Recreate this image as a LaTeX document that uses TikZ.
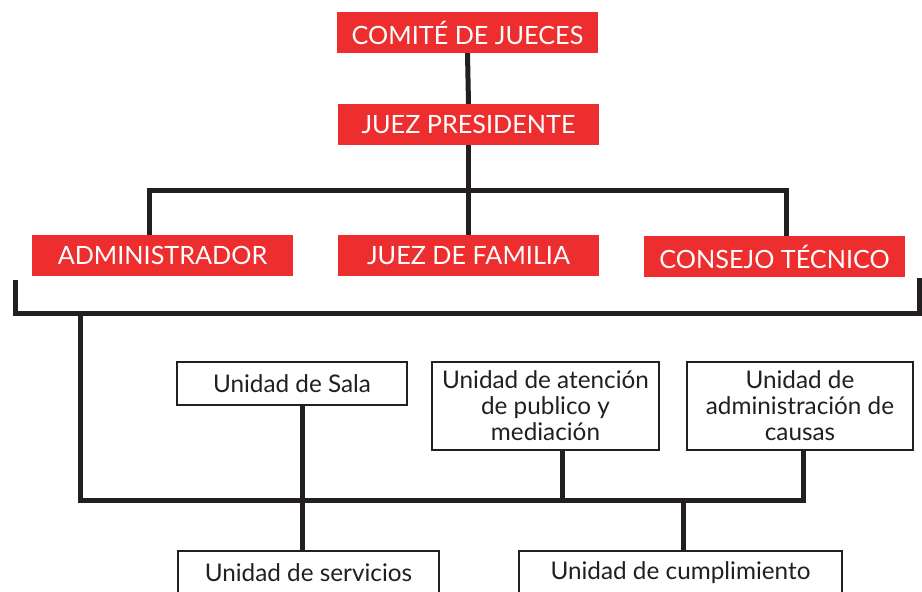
\documentclass[tikz,border=0pt]{standalone}
\usepackage{fontspec}
\setmainfont{Lato}
\definecolor{orgred}{HTML}{EE2D2F}
\definecolor{orgline}{HTML}{231F20}
\begin{document}
\begin{tikzpicture}[x=1pt,y=-1pt,
  redbox/.style={fill=orgred, text=white, minimum width=261pt, minimum height=41pt, inner sep=0pt, font=\fontsize{25.2}{29}\selectfont},
  unitbox/.style={draw=orgline, line width=2pt, fill=white, text=orgline, inner sep=0pt, align=center, font=\fontsize{24.3}{26}\selectfont},
  link/.style={draw=orgline, line width=5pt, line join=miter}]
\useasboundingbox (0,0) rectangle (922,592);
% red boxes
\node[redbox] (comite) at (467.5,32.5) {COMITÉ DE JUECES};
\node[redbox] (juezp) at (468.5,124.5) {JUEZ PRESIDENTE};
\node[redbox] (admin) at (162.5,255.5) {ADMINISTRADOR};
\node[redbox] (familia) at (468.5,255.5) {JUEZ DE FAMILIA};
\node[redbox] (consejo) at (774.5,256.5) {CONSEJO TÉCNICO};
% unit boxes
\node[unitbox, minimum width=230pt, minimum height=43pt] (sala) at (292,383.5) {Unidad de Sala};
\node[unitbox, minimum width=227pt, minimum height=88pt] (atencion) at (545.5,406) {Unidad de atención\\de publico y\\mediación};
\node[unitbox, minimum width=226pt, minimum height=88pt] (causas) at (800,406) {Unidad de\\administración de\\causas};
\node[unitbox, minimum width=261pt, minimum height=44pt] (servicios) at (308.5,573) {Unidad de servicios};
\node[unitbox, minimum width=323pt, minimum height=44pt] (cumpl) at (680.5,573) {Unidad de cumplimiento};
% junction coordinates
\coordinate (tl) at (149,190);
\coordinate (tr) at (786,190);
\coordinate (bl) at (15,280);
\coordinate (bbl) at (15,313);
\coordinate (bbr) at (919,313);
\coordinate (br) at (919,278);
\coordinate (drop) at (80,313);
\coordinate (busL) at (80,500);
\coordinate (busS) at (302,500);
\coordinate (busA) at (562,500);
\coordinate (busC) at (683,500);
\coordinate (busR) at (803,500);
% connectors
\draw[link] (comite.south) -- (juezp.north);
\draw[link] (juezp.south) -- (familia.north);
\draw[link] (tl |- admin.north) -- (tl) -- (tr) -- (tr |- consejo.north);
\draw[link] (bl) -- (bbl) -- (bbr) -- (br);
\draw[link] (drop) -- (busL) -- (busR) -- (busR |- causas.south);
\draw[link] (busS |- sala.south) -- (busS |- servicios.north);
\draw[link] (busA |- atencion.south) -- (busA);
\draw[link] (busC) -- (busC |- cumpl.north);
\end{tikzpicture}
\end{document}
